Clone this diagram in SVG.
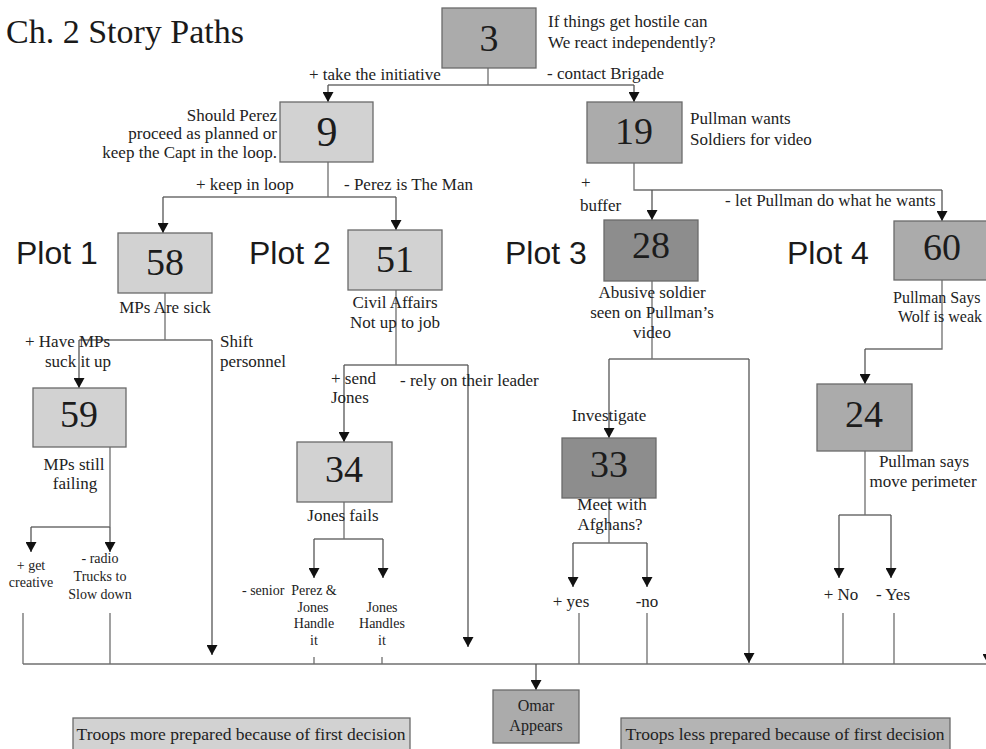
<svg xmlns="http://www.w3.org/2000/svg" width="986" height="749" viewBox="0 0 986 749">
  <style>
    .box { stroke: #6a6a6a; stroke-width: 1.3; }
    .light { fill: #d2d2d2; }
    .mid { fill: #ababab; }
    .dark { fill: #8d8d8d; }
    .num { font-family: "Liberation Serif", "Times New Roman", serif; font-size: 38px; fill: #1c1c1c; text-anchor: middle; }
    .lbl { font-family: "Liberation Serif", "Times New Roman", serif; font-size: 17px; fill: #222; }
    .sm { font-family: "Liberation Serif", "Times New Roman", serif; font-size: 14px; fill: #222; }
    .c { text-anchor: middle; }
    .r { text-anchor: end; }
    .plot { font-family: "Liberation Sans", Arial, sans-serif; font-size: 32px; fill: #1a1a1a; }
    .title { font-family: "Liberation Serif", "Times New Roman", serif; font-size: 34px; fill: #1a1a1a; }
    .wire { fill: none; stroke: #6f6f6f; stroke-width: 1.3; }
    .arr { fill: none; stroke: #555; stroke-width: 1.3; marker-end: url(#tri); }
  </style>
  <defs>
    <marker id="tri" viewBox="0 0 10 11" refX="10" refY="5.5" markerWidth="10" markerHeight="11" markerUnits="userSpaceOnUse" orient="auto">
      <path d="M0,0 L10,5.5 L0,11 z" fill="#111"/>
    </marker>
  </defs>

  <rect width="986" height="749" fill="#ffffff"/>

  <text class="title" x="6" y="43">Ch. 2 Story Paths</text>

  <!-- connectors -->
  <g id="connectors">
    <!-- 3 -> 9 / 19 -->
    <path class="wire" d="M488,68 V85 M328,85 H634"/>
    <path class="arr" d="M328,85 V102"/>
    <path class="arr" d="M634,85 V102"/>
    <!-- 9 -> 58 / 51 -->
    <path class="wire" d="M328,162 V197 M163,197 H396"/>
    <path class="arr" d="M163,197 V233"/>
    <path class="arr" d="M396,197 V230"/>
    <!-- 19 -> 28 / 60 -->
    <path class="wire" d="M634,163 V190 H942"/>
    <path class="arr" d="M652,190 V220"/>
    <path class="arr" d="M942,190 V221"/>
    <!-- 58 -> 59 / shift -->
    <path class="wire" d="M165,293 V340 M79,340 H212"/>
    <path class="arr" d="M79,340 V388"/>
    <path class="arr" d="M212,340 V655"/>
    <!-- 59 -> options -->
    <path class="wire" d="M110,447 V527 M31,527 H110"/>
    <path class="arr" d="M31,527 V552"/>
    <path class="arr" d="M110,527 V552"/>
    <path class="wire" d="M23,613 V664 M110,613 V664"/>
    <!-- 51 -> 34 / rely -->
    <path class="wire" d="M396,290 V365 M344,365 H468"/>
    <path class="arr" d="M344,365 V442"/>
    <path class="arr" d="M468,365 V647"/>
    <!-- 34 -> options -->
    <path class="wire" d="M344,502 V539 M314,539 H383"/>
    <path class="arr" d="M314,539 V578"/>
    <path class="arr" d="M383,539 V578"/>
    <path class="wire" d="M314,657 V664 M382,657 V664"/>
    <!-- 28 -> 33 / other -->
    <path class="wire" d="M652,281 V359 M609,359 H749"/>
    <path class="arr" d="M609,359 V438"/>
    <path class="arr" d="M749,359 V663"/>
    <!-- 33 -> options -->
    <path class="wire" d="M609,498 V543 M573,543 H647"/>
    <path class="arr" d="M573,543 V587"/>
    <path class="arr" d="M647,543 V587"/>
    <path class="wire" d="M579,613 V664 M647,613 V664"/>
    <!-- 60 -> 24 -->
    <path class="wire" d="M942,280 V349 H865"/>
    <path class="arr" d="M865,349 V384"/>
    <!-- 24 -> options -->
    <path class="wire" d="M865,451 V515 M839,515 H891"/>
    <path class="arr" d="M839,515 V578"/>
    <path class="arr" d="M891,515 V578"/>
    <path class="wire" d="M843,613 V664 M894,613 V664"/>
    <!-- collector line and exit to Omar -->
    <path class="wire" d="M23,664 H986"/>
    <path class="arr" d="M536,664 V690"/>
    <path class="arr" d="M988,640 V664" style="stroke:#bbb"/>
  </g>

  <!-- nodes -->
  <g id="n3">
    <rect class="box mid" x="442" y="8" width="94" height="60"/>
    <text class="num" x="489" y="51">3</text>
    <text class="lbl" x="548" y="27">If things get hostile can</text>
    <text class="lbl" x="548" y="48">We react independently?</text>
  </g>
  <g id="n9">
    <rect class="box light" x="280" y="102" width="93" height="60"/>
    <text class="num" x="327" y="146" style="font-size:42px">9</text>
    <text class="lbl r" x="277" y="121">Should Perez</text>
    <text class="lbl r" x="277" y="139">proceed as planned or</text>
    <text class="lbl r" x="277" y="158">keep the Capt in the loop.</text>
  </g>
  <g id="n19">
    <rect class="box mid" x="587" y="102" width="95" height="61"/>
    <text class="num" x="634" y="144">19</text>
    <text class="lbl" x="690" y="124">Pullman wants</text>
    <text class="lbl" x="690" y="145">Soldiers for video</text>
  </g>

  <g id="edge-labels-top">
    <text class="lbl" x="309" y="80">+ take the initiative</text>
    <text class="lbl" x="547" y="79">- contact Brigade</text>
    <text class="lbl" x="196" y="190">+ keep in loop</text>
    <text class="lbl" x="344" y="190">- Perez is The Man</text>
    <text class="lbl" x="581" y="188">+</text>
    <text class="lbl" x="580" y="211">buffer</text>
    <text class="lbl" x="725" y="206">- let Pullman do what he wants</text>
  </g>

  <g id="plot-labels">
    <text class="plot" x="16" y="264">Plot 1</text>
    <text class="plot" x="249" y="264">Plot 2</text>
    <text class="plot" x="505" y="264">Plot 3</text>
    <text class="plot" x="787" y="264">Plot 4</text>
  </g>

  <!-- Plot 1 -->
  <g id="n58">
    <rect class="box light" x="118" y="233" width="94" height="60"/>
    <text class="num" x="165" y="275">58</text>
    <text class="lbl c" x="165" y="313">MPs Are sick</text>
    <text class="lbl" x="25" y="347">+ Have MPs</text>
    <text class="lbl" x="45" y="367">suck it up</text>
    <text class="lbl" x="220" y="347">Shift</text>
    <text class="lbl" x="220" y="367">personnel</text>
  </g>
  <g id="n59">
    <rect class="box light" x="33" y="388" width="93" height="59"/>
    <text class="num" x="79" y="427">59</text>
    <text class="lbl c" x="74" y="470">MPs still</text>
    <text class="lbl c" x="75" y="489">failing</text>
    <text class="sm c" x="31" y="570">+ get</text>
    <text class="sm c" x="31" y="587">creative</text>
    <text class="sm c" x="100" y="563">-  radio</text>
    <text class="sm c" x="100" y="581">Trucks to</text>
    <text class="sm c" x="100" y="599">Slow down</text>
  </g>

  <!-- Plot 2 -->
  <g id="n51">
    <rect class="box light" x="348" y="230" width="94" height="60"/>
    <text class="num" x="395" y="272">51</text>
    <text class="lbl c" x="395" y="308">Civil Affairs</text>
    <text class="lbl c" x="395" y="328">Not up to job</text>
    <text class="lbl" x="331" y="384">+ send</text>
    <text class="lbl" x="331" y="403">Jones</text>
    <text class="lbl" x="400" y="386">- rely  on their leader</text>
  </g>
  <g id="n34">
    <rect class="box light" x="297" y="442" width="95" height="60"/>
    <text class="num" x="344" y="482">34</text>
    <text class="lbl c" x="343" y="521">Jones fails</text>
    <text class="sm" x="242" y="595">- senior</text>
    <text class="sm c" x="314" y="595">Perez &amp;</text>
    <text class="sm c" x="313" y="612">Jones</text>
    <text class="sm c" x="314" y="628">Handle</text>
    <text class="sm c" x="314" y="645">it</text>
    <text class="sm c" x="382" y="612">Jones</text>
    <text class="sm c" x="382" y="628">Handles</text>
    <text class="sm c" x="382" y="645">it</text>
  </g>

  <!-- Plot 3 -->
  <g id="n28">
    <rect class="box dark" x="604" y="220" width="94" height="61"/>
    <text class="num" x="651" y="258">28</text>
    <text class="lbl c" x="652" y="298">Abusive soldier</text>
    <text class="lbl c" x="652" y="318">seen on Pullman’s</text>
    <text class="lbl c" x="652" y="338">video</text>
    <text class="lbl c" x="609" y="421">Investigate</text>
  </g>
  <g id="n33">
    <rect class="box dark" x="562" y="438" width="94" height="60"/>
    <text class="num" x="609" y="477">33</text>
    <text class="lbl c" x="612" y="510">Meet with</text>
    <text class="lbl c" x="610" y="530">Afghans?</text>
    <text class="lbl c" x="571" y="607">+ yes</text>
    <text class="lbl c" x="647" y="607">-no</text>
  </g>

  <!-- Plot 4 -->
  <g id="n60">
    <rect class="box mid" x="894" y="221" width="100" height="59"/>
    <text class="num" x="942" y="260">60</text>
    <text class="lbl" x="893" y="303" style="font-size:16px">Pullman Says</text>
    <text class="lbl" x="898" y="322" style="font-size:16px">Wolf is weak</text>
  </g>
  <g id="n24">
    <rect class="box mid" x="817" y="384" width="95" height="67"/>
    <text class="num" x="864" y="427">24</text>
    <text class="lbl c" x="924" y="467">Pullman says</text>
    <text class="lbl c" x="923" y="487">move perimeter</text>
    <text class="lbl c" x="841" y="600">+ No</text>
    <text class="lbl c" x="893" y="600">- Yes</text>
  </g>

  <!-- outcome -->
  <g id="omar">
    <rect class="box mid" x="493" y="690" width="86" height="53"/>
    <text class="lbl c" x="536" y="711" style="font-size:16px">Omar</text>
    <text class="lbl c" x="536" y="731" style="font-size:16px">Appears</text>
  </g>
  <g id="troops-more">
    <rect class="box light" x="73" y="718" width="337" height="40"/>
    <text class="lbl c" x="241" y="740" style="font-size:17.5px">Troops more prepared because of first decision</text>
  </g>
  <g id="troops-less">
    <rect class="box" x="621" y="718" width="329" height="40" fill="#b4b4b4"/>
    <text class="lbl c" x="785" y="740" style="font-size:17.5px">Troops less prepared because of first decision</text>
  </g>
</svg>
